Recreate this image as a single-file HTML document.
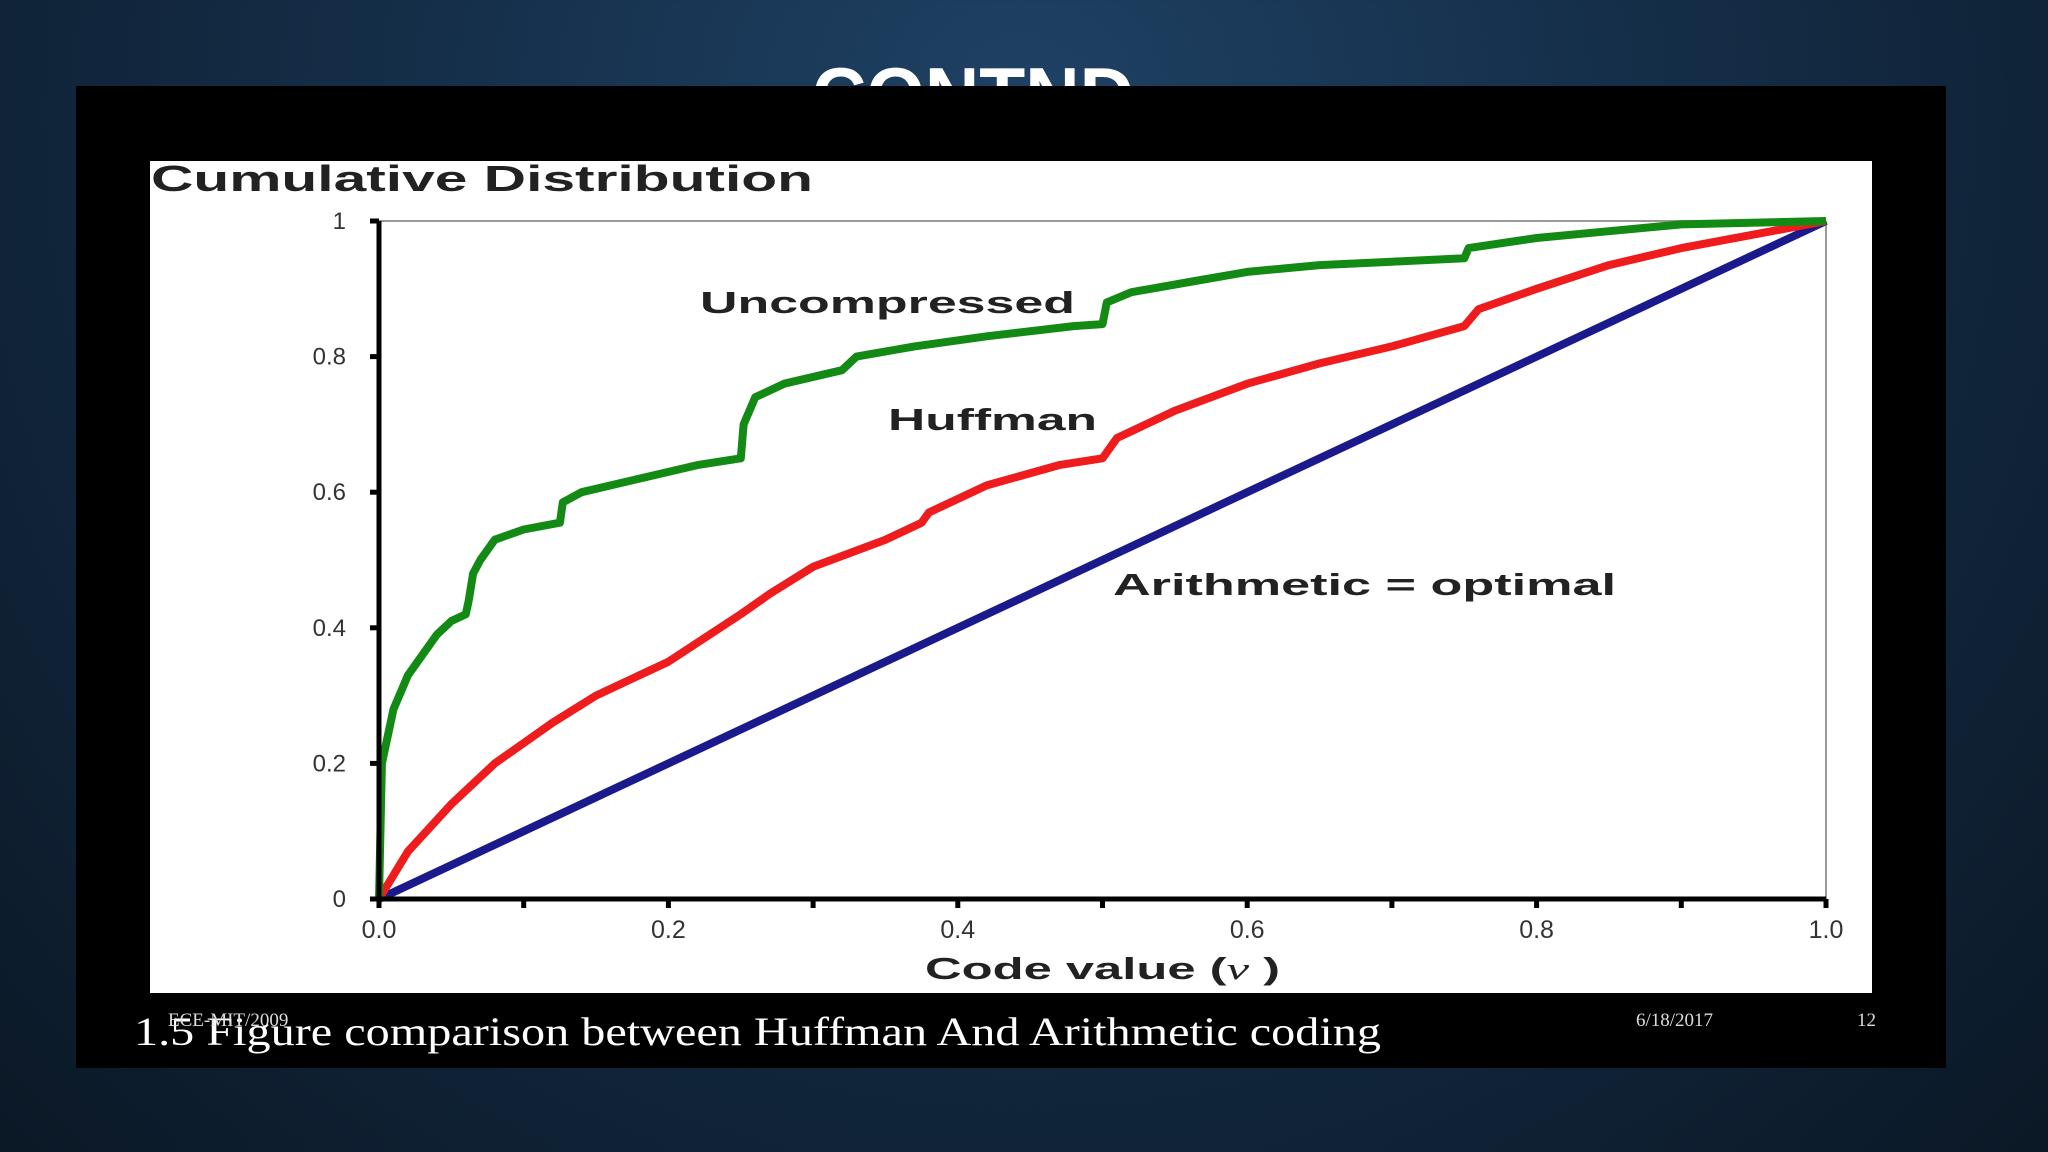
<!DOCTYPE html>
<html><head><meta charset="utf-8"><style>
html,body{margin:0;padding:0;width:2048px;height:1152px;overflow:hidden}
body{background:radial-gradient(ellipse at 50% 10%,#1f4164 0%,#152f4a 40%,#0b1826 100%);font-family:"Liberation Sans",sans-serif}
</style></head><body>
<svg width="2048" height="1152" viewBox="0 0 2048 1152" xmlns="http://www.w3.org/2000/svg" id="s">
<text x="812" y="122" font-family="Liberation Sans" font-weight="bold" font-size="78" fill="#fff" textLength="322" lengthAdjust="spacingAndGlyphs">CONTND</text>
<rect x="76" y="86" width="1870" height="982" fill="#000"/>
<rect x="150" y="161" width="1722" height="832" fill="#fff"/>
<text x="151" y="191" font-weight="bold" font-size="36" fill="#222" textLength="662" lengthAdjust="spacingAndGlyphs">Cumulative Distribution</text>
<g id="plot"></g>
<text x="925" y="979" font-weight="bold" font-size="31" fill="#222" textLength="355" lengthAdjust="spacingAndGlyphs">Code value (<tspan font-family="Liberation Serif" font-style="italic" font-weight="normal">v</tspan> )</text>
<text x="700" y="313" font-weight="bold" font-size="31" fill="#222" textLength="375" lengthAdjust="spacingAndGlyphs">Uncompressed</text>
<text x="888" y="430" font-weight="bold" font-size="31" fill="#222" textLength="209" lengthAdjust="spacingAndGlyphs">Huffman</text>
<text x="1113" y="595" font-weight="bold" font-size="31" fill="#222" textLength="503" lengthAdjust="spacingAndGlyphs">Arithmetic = optimal</text>
<text x="134" y="1045" font-family="Liberation Serif" font-size="40" fill="#fff" textLength="1247" lengthAdjust="spacingAndGlyphs">1.5 Figure comparison between Huffman And Arithmetic coding</text>
<text x="168" y="1026" font-family="Liberation Serif" font-size="19" fill="#ddd">ECE-MIT/2009</text>
<text x="1636" y="1026" font-family="Liberation Serif" font-size="19" fill="#ddd">6/18/2017</text>
<text x="1857" y="1026" font-family="Liberation Serif" font-size="19" fill="#ddd">12</text>
</svg>
<script>
const greenX=[0,0.002,0.01,0.02,0.03,0.04,0.05,0.06,0.062,0.065,0.07,0.08,0.1,0.125,0.127,0.14,0.18,0.2,0.22,0.25,0.252,0.26,0.28,0.32,0.33,0.37,0.42,0.48,0.5,0.503,0.52,0.56,0.6,0.65,0.7,0.75,0.753,0.8,0.85,0.9,1];
const greenY=[0,0.2,0.28,0.33,0.36,0.39,0.41,0.42,0.44,0.48,0.5,0.53,0.545,0.555,0.585,0.6,0.62,0.63,0.64,0.65,0.7,0.74,0.76,0.78,0.8,0.815,0.83,0.845,0.848,0.88,0.895,0.91,0.925,0.935,0.94,0.945,0.96,0.975,0.985,0.995,1];
const redX=[0,0.02,0.05,0.08,0.12,0.15,0.2,0.25,0.27,0.3,0.35,0.375,0.38,0.42,0.47,0.5,0.51,0.55,0.6,0.65,0.7,0.75,0.76,0.8,0.85,0.9,0.95,1];
const redY=[0,0.07,0.14,0.2,0.26,0.3,0.35,0.42,0.45,0.49,0.53,0.555,0.57,0.61,0.64,0.65,0.68,0.72,0.76,0.79,0.815,0.845,0.87,0.9,0.935,0.96,0.98,1];
const blueX=[0,1];
const blueY=[0,1];
const xTicks=[0,0.1,0.2,0.3,0.4,0.5,0.6,0.7,0.8,0.9,1];
const xTickLabels=["0.0","0.2","0.4","0.6","0.8","1.0"];
const xLabelVals=[0,0.2,0.4,0.6,0.8,1];
const yTickVals=[0,0.2,0.4,0.6,0.8,1];
const yTickLabels=["0","0.2","0.4","0.6","0.8","1"];
const X0=379,X1=1826,Y0=899,Y1=221;
const sx=v=>X0+(X1-X0)*v, sy=v=>Y0-(Y0-Y1)*v;
const NS="http://www.w3.org/2000/svg", g=document.getElementById('plot');
function mk(t,a){const e=document.createElementNS(NS,t);for(const k in a)e.setAttribute(k,a[k]);g.appendChild(e);return e;}
let e=mk('line',{x1:X0,y1:Y1,x2:X1,y2:Y1,stroke:'#999','stroke-width':2});


e=mk('line',{x1:X1,y1:Y1,x2:X1,y2:Y0,stroke:'#999','stroke-width':2});


function series(xs,ys,col,name){
 const d=xs.map((x,i)=>(i?'L':'M')+sx(x).toFixed(1)+','+sy(ys[i]).toFixed(1)).join('');
 const p=mk('path',{d:d,fill:'none',stroke:col,'stroke-width':8,'stroke-linejoin':'round'});
 
 
}
series(blueX,blueY,'#1a1a8c','series-arithmetic');
series(redX,redY,'#ee1c1c','series-huffman');
series(greenX,greenY,'#138a13','series-uncompressed');
e=mk('line',{x1:X0,y1:Y0,x2:X1,y2:Y0,stroke:'#000','stroke-width':5});


e=mk('line',{x1:X0,y1:Y0,x2:X0,y2:Y1,stroke:'#000','stroke-width':5});


xTicks.forEach(v=>{const t=mk('line',{x1:sx(v),y1:Y0,x2:sx(v),y2:Y0+9,stroke:'#000','stroke-width':5});
 
 });
xLabelVals.forEach((v,i)=>{const t=mk('text',{x:sx(v),y:Y0+39,'text-anchor':'middle','font-size':25,fill:'#333'});t.textContent=xTickLabels[i];
 
 });
yTickVals.forEach((v,i)=>{const t=mk('line',{x1:X0-9,y1:sy(v),x2:X0,y2:sy(v),stroke:'#000','stroke-width':5});
 
 
 const l=mk('text',{x:X0-33,y:sy(v)+8,'text-anchor':'end','font-size':24,fill:'#333'});l.textContent=yTickLabels[i];
 
 });
</script>
</body></html>
